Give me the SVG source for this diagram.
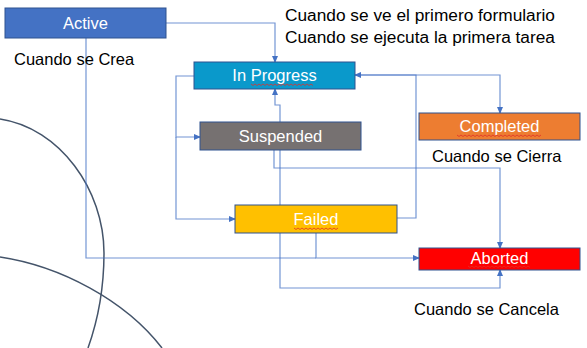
<svg xmlns="http://www.w3.org/2000/svg" width="587" height="348" viewBox="0 0 587 348">
  <defs>
    <marker id="arrow" markerWidth="7" markerHeight="6" refX="6" refY="3" orient="auto" markerUnits="userSpaceOnUse">
      <path d="M0,0 L7,3 L0,6 Z" fill="#4472C4"/>
    </marker>
    <style>
      .box { stroke: #2F528F; stroke-width: 1; }
      .lbl { font-family: "Liberation Sans", Arial, sans-serif; font-size: 16.5px; fill: #ffffff; text-anchor: middle; }
      .note { font-family: "Liberation Sans", Arial, sans-serif; font-size: 16.5px; fill: #000000; }
      .note-top { font-size: 17.3px; }
      .conn { fill: none; stroke: #4472C4; stroke-opacity: 0.75; stroke-width: 1.2; }
      .arc { fill: none; stroke: #44546A; stroke-width: 1.5; }
      .squig { fill: none; stroke: #E0302A; stroke-width: 0.8; }
    </style>
  </defs>

  <rect width="587" height="348" fill="#ffffff"/>

  <!-- background arcs -->
  <g id="arcs">
    <path class="arc" d="M0,119 C60,128 104,190 104,253 C104,290 98,320 88,348"/>
    <path class="arc" d="M0,257 C60,266 125,300 162,348"/>
  </g>

  <!-- connectors -->
  <g id="connectors">
    <path class="conn" d="M166,23 H275 V62" marker-end="url(#arrow)"/>
    <path class="conn" d="M194,76 H176 V137 H200" marker-end="url(#arrow)"/>
    <path class="conn" d="M176,137 V219 H235" marker-end="url(#arrow)"/>
    <path class="conn" d="M280,122 V105 H275 V89" marker-end="url(#arrow)"/>
    <path class="conn" d="M280,150 V288 H500 V270" marker-end="url(#arrow)"/>
    <path class="conn" d="M274,150 V168 H500 V248" marker-end="url(#arrow)"/>
    <path class="conn" d="M397,218 H416 V75 H355" marker-end="url(#arrow)"/>
    <path class="conn" d="M355,75 H500 V113" marker-end="url(#arrow)"/>
    <path class="conn" d="M316,233 V258 H419" marker-end="url(#arrow)"/>
    <path class="conn" d="M86,38 V258 H316"/>
  </g>

  <!-- nodes -->
  <g id="active">
    <rect class="box" x="5" y="8" width="161" height="30" fill="#4472C4"/>
    <text class="lbl" x="85.5" y="29">Active</text>
  </g>
  <g id="in-progress">
    <rect class="box" x="194" y="62" width="161" height="27" fill="#0A99CB"/>
    <text class="lbl" x="274.5" y="81">In Progress</text>
    <path class="squig" d="M251,84 l2,1.5 l2,-1.5 l2,1.5 l2,-1.5 l2,1.5 l2,-1.5 l2,1.5 l2,-1.5 l2,1.5 l2,-1.5 l2,1.5 l2,-1.5 l2,1.5 l2,-1.5 l2,1.5 l2,-1.5 l2,1.5 l2,-1.5 l2,1.5 l2,-1.5 l2,1.5 l2,-1.5 l2,1.5 l2,-1.5 l2,1.5 l2,-1.5 l2,1.5 l2,-1.5 l2,1.5 l2,-1.5 l2,1.5"/>
  </g>
  <g id="suspended">
    <rect class="box" x="200" y="122" width="161" height="28" fill="#767171"/>
    <text class="lbl" x="280.5" y="142">Suspended</text>
  </g>
  <g id="failed">
    <rect class="box" x="235" y="205" width="162" height="28" fill="#FFC000"/>
    <text class="lbl" x="316" y="225">Failed</text>
    <path class="squig" d="M294,228 l2,1.5 l2,-1.5 l2,1.5 l2,-1.5 l2,1.5 l2,-1.5 l2,1.5 l2,-1.5 l2,1.5 l2,-1.5 l2,1.5 l2,-1.5 l2,1.5 l2,-1.5 l2,1.5 l2,-1.5 l2,1.5 l2,-1.5 l2,1.5 l2,-1.5 l2,1.5 l2,-1.5"/>
  </g>
  <g id="completed">
    <rect class="box" x="419" y="113" width="161" height="27" fill="#ED7D31"/>
    <text class="lbl" x="499.5" y="132">Completed</text>
    <path class="squig" d="M457,135 l2,1.5 l2,-1.5 l2,1.5 l2,-1.5 l2,1.5 l2,-1.5 l2,1.5 l2,-1.5 l2,1.5 l2,-1.5 l2,1.5 l2,-1.5 l2,1.5 l2,-1.5 l2,1.5 l2,-1.5 l2,1.5 l2,-1.5 l2,1.5 l2,-1.5 l2,1.5 l2,-1.5 l2,1.5 l2,-1.5 l2,1.5 l2,-1.5 l2,1.5 l2,-1.5 l2,1.5 l2,-1.5 l2,1.5 l2,-1.5 l2,1.5 l2,-1.5 l2,1.5 l2,-1.5 l2,1.5 l2,-1.5 l2,1.5 l2,-1.5 l2,1.5 l2,-1.5"/>
  </g>
  <g id="aborted">
    <rect class="box" x="419" y="248" width="161" height="22" fill="#FF0000"/>
    <text class="lbl" x="499.5" y="264">Aborted</text>
    <path class="squig" d="M468,266 l2,1.5 l2,-1.5 l2,1.5 l2,-1.5 l2,1.5 l2,-1.5 l2,1.5 l2,-1.5 l2,1.5 l2,-1.5 l2,1.5 l2,-1.5 l2,1.5 l2,-1.5 l2,1.5 l2,-1.5 l2,1.5 l2,-1.5 l2,1.5 l2,-1.5 l2,1.5 l2,-1.5 l2,1.5 l2,-1.5 l2,1.5 l2,-1.5 l2,1.5 l2,-1.5 l2,1.5 l2,-1.5 l2,1.5"/>
  </g>

  <!-- annotations -->
  <g id="notes">
    <text class="note" x="14" y="65">Cuando se Crea</text>
    <text class="note note-top" x="285" y="21">Cuando se ve el primero formulario</text>
    <text class="note note-top" x="285" y="43">Cuando se ejecuta la primera tarea</text>
    <text class="note" x="432" y="162">Cuando se Cierra</text>
    <text class="note" x="414" y="315">Cuando se Cancela</text>
  </g>
</svg>
